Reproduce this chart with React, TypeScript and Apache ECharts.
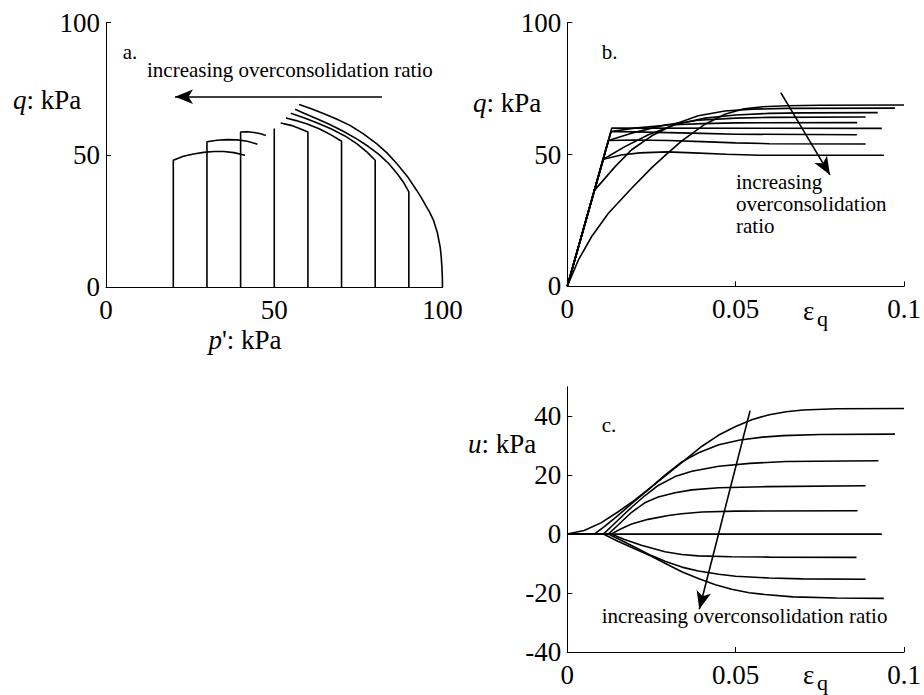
import React, { useEffect, useRef } from "react";
import * as echarts from "echarts";

const SERIF = "'Liberation Serif', 'Times New Roman', serif";

// Panel a: undrained effective stress paths, [p' (kPa), q (kPa)], one per initial p'0
const pathA20 = [[20, 0], [20, 48], [23, 49.5], [26, 50.4], [29, 51], [32, 51.3], [35, 51.3], [38, 50.9], [41.3, 49.9]];
const pathA30 = [[30, 0], [30, 55], [33, 55.6], [36, 55.8], [39, 55.7], [42, 55.2], [45, 54.1]];
const pathA40 = [[40, 0], [40, 58.7], [42, 58.8], [44, 58.5], [46, 58], [47.5, 57.4]];
const pathA50 = [[50, 0], [50, 60]];
const pathA60 = [[60, 0], [60, 58.7], [57.5, 60], [55, 61.2], [51.9, 62.1]];
const pathA70 = [[70, 0], [70, 55.2], [67, 57.5], [63.5, 59.8], [60, 61.6], [56.5, 63], [53.5, 64]];
const pathA80 = [[80, 0], [80, 48], [77.5, 51.2], [74.5, 54.3], [71, 57.2], [67, 59.8], [63, 62], [59, 64], [54.9, 65.8]];
const pathA90 = [[90, 0], [90, 36.1], [88.5, 39.5], [86.5, 43], [84, 46.8], [81, 50.3], [78, 53.2], [74.5, 56.1], [70.5, 59], [66.5, 61.5], [62.5, 63.8], [59, 65.7], [56.2, 67.3]];
const pathA100 = [[100, 0], [99.95, 4], [99.8, 8], [99.6, 11.8], [99.3, 15.3], [98.5, 20.5], [97.3, 25.4], [96.2, 28.3], [95, 31], [93.7, 33.9], [92.3, 36.7], [89.5, 42], [86.4, 46.8], [83.5, 50.8], [80.4, 54.3], [76.5, 58], [72.5, 61.2], [68.5, 63.6], [64.6, 65.7], [61, 67.5], [57.4, 69.1]];

// Panel b: [eps_q, q (kPa)]
const curveB20 = [[0, 0], [0.0107, 48.2], [0.016, 49.8], [0.0216, 50.6], [0.0295, 51], [0.0374, 50.6], [0.0473, 50.1], [0.0572, 49.7], [0.094, 49.7]];
const curveB30 = [[0, 0], [0.0122, 55.3], [0.02, 55.5], [0.03, 55.3], [0.04, 54.9], [0.05, 54.4], [0.06, 54.1], [0.0886, 54]];
const curveB40 = [[0, 0], [0.013, 58.7], [0.02, 58.6], [0.03, 58.3], [0.04, 58], [0.05, 57.7], [0.086, 57.5]];
const curveB50 = [[0, 0], [0.0132, 60], [0.0934, 59.9]];
const curveB60 = [[0, 0], [0.013, 58.7], [0.02, 60], [0.03, 61.2], [0.04, 61.7], [0.05, 62], [0.0861, 62.1]];
const curveB70 = [[0, 0], [0.0122, 55.3], [0.0191, 58.1], [0.029, 61.2], [0.0389, 63], [0.05, 63.8], [0.06, 64.1], [0.0886, 64.2]];
const curveB80 = [[0, 0], [0.0107, 48.2], [0.0171, 53], [0.0241, 57.5], [0.032, 61.3], [0.0409, 63.8], [0.05, 65], [0.06, 65.6], [0.07, 65.8], [0.0922, 65.9]];
const curveB90 = [[0, 0], [0.008, 36.3], [0.0142, 45.4], [0.0191, 51.8], [0.0251, 57.1], [0.032, 61.6], [0.0389, 64.7], [0.0468, 66.5], [0.055, 67.2], [0.065, 67.5], [0.0973, 67.6]];
const curveB100 = [[0, 0], [0.0033, 10], [0.0072, 18.8], [0.0122, 27.7], [0.0191, 37.2], [0.0251, 45], [0.029, 49.6], [0.034, 55.2], [0.0409, 61.5], [0.0468, 65.3], [0.052, 67.2], [0.058, 68.1], [0.065, 68.5], [0.075, 68.7], [0.1, 68.8]];

// Panel c: [eps_q, u (kPa)]
const curveC20 = [[0, 0], [0.0107, 0], [0.015, -2.4], [0.02, -5], [0.025, -7.5], [0.029, -9.9], [0.034, -12.8], [0.0389, -15.1], [0.044, -17.2], [0.0488, -18.7], [0.054, -19.9], [0.0587, -20.5], [0.067, -21.3], [0.08, -21.7], [0.094, -21.8]];
const curveC30 = [[0, 0], [0.0122, 0], [0.017, -2.7], [0.021, -5], [0.025, -7.3], [0.029, -9.2], [0.034, -11.2], [0.0389, -12.5], [0.045, -13.6], [0.05, -14.3], [0.06, -14.9], [0.07, -15.2], [0.0886, -15.3]];
const curveC40 = [[0, 0], [0.013, 0], [0.017, -1.8], [0.022, -3.8], [0.029, -6], [0.034, -6.9], [0.0389, -7.4], [0.0488, -7.7], [0.06, -7.8], [0.0859, -7.9]];
const curveC50 = [[0, 0], [0.0934, 0]];
const curveC60 = [[0, 0], [0.013, 0], [0.016, 1.8], [0.0191, 3.4], [0.024, 5], [0.03, 6.3], [0.034, 6.9], [0.04, 7.5], [0.05, 7.8], [0.0862, 7.9]];
const curveC70 = [[0, 0], [0.0122, 0], [0.015, 3], [0.0191, 7.4], [0.023, 10.6], [0.027, 12.6], [0.032, 14], [0.037, 15], [0.045, 15.7], [0.0592, 16.1], [0.0886, 16.4]];
const curveC80 = [[0, 0], [0.0107, 0], [0.0135, 3], [0.0165, 6.3], [0.0191, 9.1], [0.023, 13], [0.027, 16.5], [0.032, 19.5], [0.037, 21.3], [0.0394, 21.8], [0.045, 23], [0.0542, 24], [0.065, 24.6], [0.0924, 24.9]];
const curveC90 = [[0, 0], [0.008, 0], [0.011, 2.5], [0.015, 6.3], [0.0191, 10.3], [0.024, 15], [0.029, 20], [0.034, 24.5], [0.039, 27.6], [0.045, 30.3], [0.0513, 31.9], [0.058, 32.9], [0.0642, 33.4], [0.075, 33.8], [0.0973, 33.9]];
const curveC100 = [[0, 0], [0.005, 1.2], [0.01, 3.8], [0.015, 7.5], [0.02, 11.5], [0.025, 16], [0.03, 20.6], [0.035, 25.2], [0.04, 29.8], [0.045, 33.6], [0.05, 36.5], [0.055, 38.9], [0.06, 40.5], [0.065, 41.5], [0.07, 42.1], [0.08, 42.5], [0.1, 42.6]];

// Axis ranges / ticks
const pTicks = { min: 0, max: 100, interval: 50 };
const qTicks = { min: 0, max: 100, interval: 50 };
const epsTicks = { min: 0, max: 0.1, interval: 0.05 };
const uTicks = { min: -40, max: 50, interval: 20 };

// Arrow annotations in data coordinates
const arrowA = [[82, 72], [20.5, 72]];
const arrowB = [[0.0634, 73.5], [0.078, 42.3]];
const arrowC = [[0.0543, 41.9], [0.0392, -25.5]];

const annotation = "increasing overconsolidation ratio";
const annotationB = "increasing\noverconsolidation\nratio";

const pathsA = [pathA20, pathA30, pathA40, pathA50, pathA60, pathA70, pathA80, pathA90, pathA100];
const curvesB = [curveB20, curveB30, curveB40, curveB50, curveB60, curveB70, curveB80, curveB90, curveB100];
const curvesC = [curveC20, curveC30, curveC40, curveC50, curveC60, curveC70, curveC80, curveC90, curveC100];

export default function App() {
  const ref = useRef<HTMLDivElement>(null);
  useEffect(() => {
    if (!ref.current) return;
    const chart = echarts.init(ref.current, null, { renderer: "svg" });
    const lineW = 1.6;

    const axisCommon = (t: any, extra: any = {}) => ({
      type: "value",
      min: t.min,
      max: t.max,
      interval: t.interval,
      axisLine: { show: true, onZero: false, lineStyle: { color: "#000", width: 1 } },
      axisTick: { show: true, inside: true, length: 5, lineStyle: { color: "#000" } },
      splitLine: { show: false },
      axisLabel: { color: "#000", fontFamily: SERIF, fontSize: 27, ...extra },
    });

    const arrowMark = (a: number[][]) => ({
      silent: true,
      symbol: ["none", "arrow"],
      symbolSize: [11, 18],
      label: { show: false },
      lineStyle: { color: "#000", width: lineW, type: "solid" },
      data: [[{ coord: a[0] }, { coord: a[1] }]],
    });

    const mk = (data: number[][], idx: number, mark?: any) => ({
      type: "line",
      xAxisIndex: idx,
      yAxisIndex: idx,
      data,
      showSymbol: false,
      symbol: "none",
      smooth: false,
      lineStyle: { color: "#000", width: lineW },
      ...(mark ? { markLine: mark } : {}),
    });

    const series: any[] = [];
    pathsA.forEach((d, i) => series.push(mk(d, 0, i === 0 ? arrowMark(arrowA) : undefined)));
    curvesB.forEach((d, i) => series.push(mk(d, 1, i === 0 ? arrowMark(arrowB) : undefined)));
    curvesC.forEach((d, i) => series.push(mk(d, 2, i === 0 ? arrowMark(arrowC) : undefined)));

    const txt = (x: number, y: number, text: string, size: number, align = "left", extra: any = {}) => ({
      type: "text",
      x,
      y,
      silent: true,
      style: {
        text,
        fill: "#000",
        font: `${size}px ${SERIF}`,
        fontSize: size,
        fontFamily: SERIF,
        textAlign: align,
        textVerticalAlign: "middle",
        ...extra,
      },
    });

    const italicRich = { rich: { i: { fontStyle: "italic", fontSize: 27, fontFamily: SERIF, fill: "#000" } } };

    chart.setOption({
      animation: false,
      backgroundColor: "#fff",
      grid: [
        { left: 106, top: 22.7, width: 336.5, height: 264.6 },
        { left: 567.3, top: 22.7, width: 336.7, height: 263.6 },
        { left: 567.3, top: 386.7, width: 336.7, height: 265.3 },
      ],
      xAxis: [
        { gridIndex: 0, ...axisCommon(pTicks, { margin: 9 }) },
        { gridIndex: 1, ...axisCommon(epsTicks, { margin: 9 }) },
        { gridIndex: 2, ...axisCommon(epsTicks, { margin: 9 }) },
      ],
      yAxis: [
        { gridIndex: 0, ...axisCommon(qTicks, { margin: 6 }) },
        { gridIndex: 1, ...axisCommon(qTicks, { margin: 6 }) },
        { gridIndex: 2, ...axisCommon(uTicks, { margin: 6, showMaxLabel: false }) },
      ],
      series,
      graphic: [
        txt(13, 100, "{i|q}: kPa", 27, "left", italicRich),
        txt(245, 340, "{i|p}': kPa", 27, "center", italicRich),
        txt(122.7, 52, "a.", 21),
        txt(147, 70, annotation, 21),
        txt(473, 103, "{i|q}: kPa", 27, "left", italicRich),
        txt(601.7, 52, "b.", 21),
        txt(736, 204, annotationB, 21, "left", { lineHeight: 22 }),
        txt(803, 311, "ε", 27),
        txt(817, 318, "q", 22),
        txt(468, 444, "{i|u}: kPa", 27, "left", italicRich),
        txt(601.7, 425, "c.", 21),
        txt(601.7, 615.7, annotation, 21),
        txt(803, 675, "ε", 27),
        txt(817, 682, "q", 22),
      ],
    });
    return () => chart.dispose();
  }, []);
  return (
    <div
      ref={ref}
      style={{ position: "fixed", left: 0, top: 0, width: 924, height: 695, background: "#fff" }}
    />
  );
}
